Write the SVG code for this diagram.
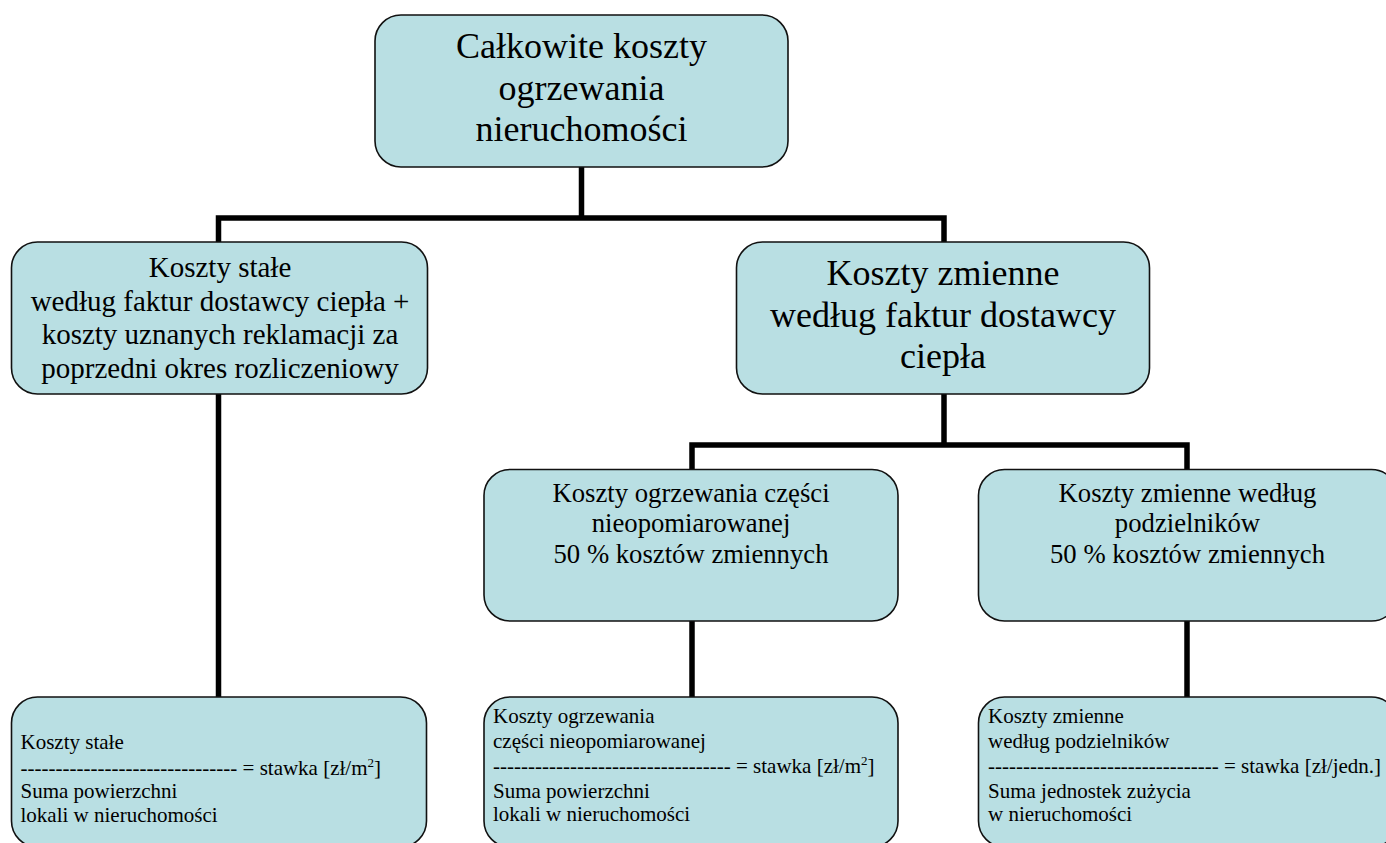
<svg xmlns="http://www.w3.org/2000/svg" width="1386" height="843" viewBox="0 0 1386 843">
<style>
.box{fill:#b9dfe3;stroke:#111;stroke-width:1.6}
text{fill:#000}
.c{text-anchor:middle}
.conn{fill:none;stroke:#000;stroke-width:5.5;stroke-linejoin:miter;stroke-linecap:butt}
</style>
<rect x="0" y="0" width="1386" height="843" fill="#fff"/>
<g id="connectors">
<path class="conn" d="M581.5 167 V218"/>
<path class="conn" d="M218.5 242 V218 H944 V242"/>
<path class="conn" d="M218.5 394 V697"/>
<path class="conn" d="M944 394 V445"/>
<path class="conn" d="M692 469 V445 H1187 V469"/>
<path class="conn" d="M692 621 V697"/>
<path class="conn" d="M1187 621 V697"/>
</g>
<g font-family="Liberation Serif, Tinos, Times New Roman, DejaVu Serif, serif">
<g id="n-top">
<rect class="box" x="375" y="15" width="413" height="152" rx="26"/>
<text class="c" font-size="36" x="581.5" y="58">Całkowite koszty</text>
<text class="c" font-size="36" x="581.5" y="99.5">ogrzewania</text>
<text class="c" font-size="36" x="581.5" y="141">nieruchomości</text>
</g>
<g id="n-stale">
<rect class="box" x="11.5" y="242" width="416" height="152" rx="26"/>
<text class="c" font-size="29" x="220" y="277">Koszty stałe</text>
<text class="c" font-size="29" x="220" y="310.5">według faktur dostawcy ciepła +</text>
<text class="c" font-size="29" x="220" y="344">koszty uznanych reklamacji za</text>
<text class="c" font-size="29" x="220" y="377.5">poprzedni okres rozliczeniowy</text>
</g>
<g id="n-zmienne">
<rect class="box" x="736.5" y="242" width="413" height="152" rx="26"/>
<text class="c" font-size="36" x="943" y="285">Koszty zmienne</text>
<text class="c" font-size="36" x="943" y="327">według faktur dostawcy</text>
<text class="c" font-size="36" x="943" y="368">ciepła</text>
</g>
<g id="n-nieopom">
<rect class="box" x="484" y="469.5" width="414" height="151.5" rx="26"/>
<text class="c" font-size="26.7" x="691" y="501.5">Koszty ogrzewania części</text>
<text class="c" font-size="26.7" x="691" y="532">nieopomiarowanej</text>
<text class="c" font-size="26.7" x="691" y="563"> 50 % kosztów zmiennych</text>
</g>
<g id="n-podziel">
<rect class="box" x="978.5" y="469.5" width="419" height="151.5" rx="26"/>
<text class="c" font-size="26.7" x="1187.5" y="501.5">Koszty zmienne według</text>
<text class="c" font-size="26.7" x="1187.5" y="532">podzielników</text>
<text class="c" font-size="26.7" x="1187.5" y="563">50 % kosztów zmiennych</text>
</g>
<g id="n-stawka-stale">
<rect class="box" x="11.5" y="697" width="415" height="150" rx="26"/>
<text font-size="21" x="20.5" y="749">Koszty stałe</text>
<text font-size="21" x="20.5" y="775">------------------------------- = stawka [zł/m<tspan font-size="13" dy="-8">2</tspan><tspan dy="8">]</tspan></text>
<text font-size="21" x="20.5" y="798">Suma powierzchni</text>
<text font-size="21" x="20.5" y="822">lokali w nieruchomości</text>
</g>
<g id="n-stawka-nieopom">
<rect class="box" x="484" y="697" width="414" height="150" rx="26"/>
<text font-size="21" x="493" y="723">Koszty ogrzewania</text>
<text font-size="21" x="493" y="748">części nieopomiarowanej</text>
<text font-size="21" x="493" y="773">---------------------------------- = stawka [zł/m<tspan font-size="13" dy="-8">2</tspan><tspan dy="8">]</tspan></text>
<text font-size="21" x="493" y="798">Suma powierzchni</text>
<text font-size="21" x="493" y="821">lokali w nieruchomości</text>
</g>
<g id="n-stawka-podziel">
<rect class="box" x="978.5" y="697" width="419" height="150" rx="26"/>
<text font-size="21" x="988" y="723">Koszty zmienne</text>
<text font-size="21" x="988" y="748">według podzielników</text>
<text font-size="21" x="988" y="773">--------------------------------- = stawka [zł/jedn.]</text>
<text font-size="21" x="988" y="798">Suma jednostek zużycia</text>
<text font-size="21" x="988" y="821">w nieruchomości</text>
</g>
</g>
</svg>
